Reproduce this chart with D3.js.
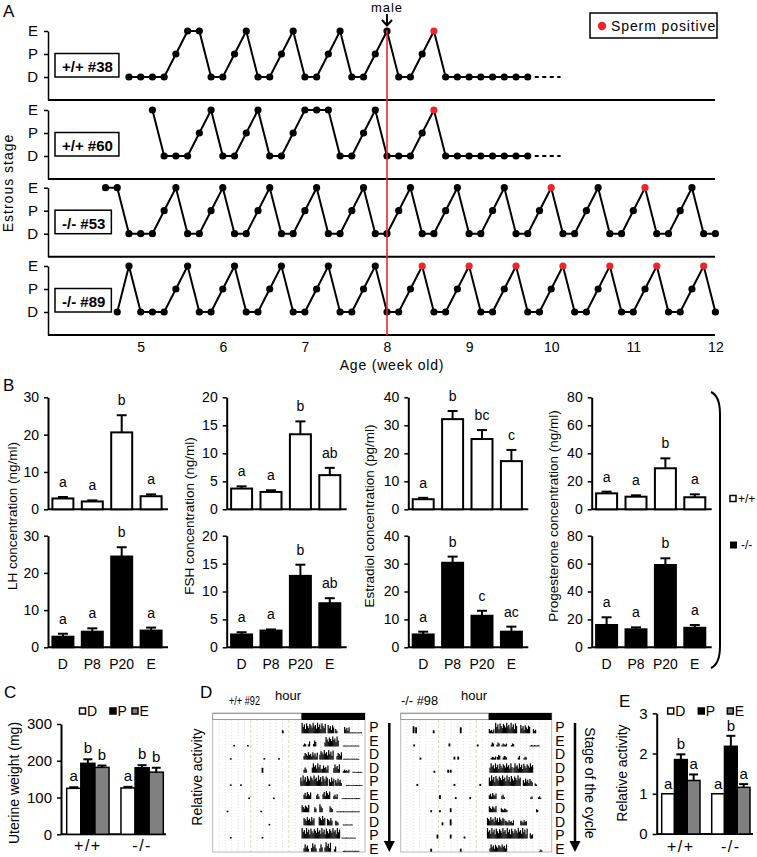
<!DOCTYPE html>
<html><head><meta charset="utf-8">
<script src="https://cdn.jsdelivr.net/npm/d3@7"></script>
<style>body{margin:0;background:#fff}svg{display:block}</style>
</head><body>
<svg id="c" width="757" height="857"></svg>
<script>
// ---------------- DATA ----------------
// Panel A
const stageNames = ["D","P","E"];
const mouseLabels = ["+/+ #38","+/+ #60","-/- #53","-/- #89"];
const startDays = [34,36,32,33];
const stageSeqs = [
  "DDDDPEEDDPEDDPEDDPEDDPEDDPEDDDDDDDD",
  "EDDDPEDDPEDDPEEEDDPEDDDPEDDDDDDDD",
  "EEDDDPEDDPEDDPEDDPEDDPEDDPEDDPEDDPEDDPEDDPEDDPEDDPEDD",
  "DEDDDPEDDPEDDPEDDPEDDPEDDPEDDPEDDPEDDPEDDPEDDPEDDPED"
];
const spermDays = [[60],[60],[70,78],[59,63,67,71,75,79,83]];
const trailingDash = [true,true,false,false];
const weekTicks = [5,6,7,8,9,10,11,12];
const maleWeek = 8;

// Panel B
const cats = ["D","P8","P20","E"];
const hormoneTitles = ["LH concentration (ng/ml)","FSH concentration (ng/ml)","Estradiol concentration (pg/ml)","Progesterone concentration (ng/ml)"];
const hormoneMax = [30,20,40,80];
const hormoneStep = [10,5,10,20];
const wtMean = [[2.9,2.1,20.6,3.5],[3.7,3.1,13.4,6.1],[3.6,32.2,25.1,17.2],[11.4,9.0,29.3,8.6]];
const wtErr  = [[0.4,0.3,4.6,0.5],[0.4,0.3,2.3,1.3],[0.5,2.9,3.2,4.0],[1.2,1.0,7.1,2.1]];
const wtLetters = [["a","a","b","a"],["a","a","b","ab"],["a","b","bc","c"],["a","a","b","a"]];
const koMean = [[2.85,4.2,24.4,4.5],[2.3,3.0,12.8,7.9],[4.6,30.3,11.3,5.6],[16,12.9,59,14]];
const koErr  = [[0.8,0.9,2.5,0.8],[0.4,0.2,2.0,0.9],[1.0,2.2,1.8,1.8],[5.5,1.4,4.8,2.0]];
const koLetters = [["a","a","b","a"],["a","a","b","ab"],["a","b","c","ac"],["a","a","b","a"]];

// Panels C and E
const genotypes = ["+/+","-/-"];
const cycleCats = ["D","P","E"];
const uterMean = [[125,193,182],[126,181,169]];
const uterErr  = [[3,11,5],[3,7,12]];
const uterLetters = [["a","b","b"],["a","b","b"]];
const uterTicks = [0,100,200,300];
const actMean = [[1,1.85,1.33],[1,2.18,1.16]];
const actErr  = [[0,0.13,0.15],[0,0.26,0.08]];
const actLetters = [["a","b","a"],["a","b","a"]];
const actTicks = [0,1,2,3];

// Panel D (actograms): [row, startHour, endHour, relative height]
const cycleStages = ["P","E","D","D","P","E","D","D","P","E"];
const wtBouts = [
 [0,14.0,17.7,1.0],[0,18.1,19.0,0.8],[0,19.3,19.6,0.4],[0,20.7,21.5,0.6],[0,21.6,23.5,0.1],
 [1,14.2,14.6,0.3],[1,15.0,15.3,0.5],[1,15.8,16.2,0.6],[1,17.6,19.8,0.95],[1,20.5,23.0,0.1],
 [2,14.3,16.4,0.7],[2,16.8,18.9,0.9],[2,19.5,20.2,0.7],[2,20.5,23.0,0.1],
 [3,14.3,14.8,0.5],[3,15.6,17.0,0.9],[3,17.2,18.2,0.7],[3,19.0,20.0,0.8],[3,20.5,21.5,0.3],[3,22.0,23.5,0.1],
 [4,13.8,18.0,1.0],[4,18.3,19.0,0.8],[4,19.3,20.3,0.7],[4,21.0,23.5,0.1],
 [5,14.3,15.4,0.7],[5,16.3,16.8,0.6],[5,17.3,18.4,0.8],[5,19.0,19.6,0.5],[5,20.3,23.2,0.1],
 [6,14.0,15.1,0.7],[6,16.0,16.3,0.5],[6,16.8,17.2,0.8],[6,18.4,18.9,0.6],[6,19.5,23.0,0.1],
 [7,14.3,15.9,0.8],[7,16.7,17.7,0.9],[7,18.0,18.8,0.7],[7,19.3,19.8,0.5],[7,20.5,22.0,0.1],
 [8,14.0,20.0,1.0],[8,20.3,22.5,0.1],
 [9,14.3,15.0,0.7],[9,15.5,16.3,0.8],[9,16.8,17.3,0.7],[9,17.6,18.6,0.9],[9,19.1,19.4,0.5],[9,20.5,23.0,0.1]
];
const wtSpots = [[0,10.9,0.3],[1,3.25,0.15],[1,5.4,0.15],[2,2.7,0.15],[2,8.0,0.15],[2,10.3,0.15],[3,7.7,0.5],
 [4,2.7,0.15],[4,4.3,0.15],[4,8.8,0.15],[5,5.6,0.15],[5,9.5,0.15],[6,2.2,0.15],[6,7.5,0.15],[7,8.8,0.15],[8,2.7,0.15],[8,7.7,0.15]];
const koBouts = [
 [0,14.0,14.7,0.4],[0,15.0,18.4,1.0],[0,19.0,20.5,0.8],[0,21.0,21.4,0.4],
 [1,14.3,14.8,0.4],[1,15.2,15.6,0.4],[1,16.0,16.8,0.3],[1,17.5,18.0,0.3],[1,20.5,22.0,0.15],
 [2,14.3,15.0,0.3],[2,15.3,15.8,0.5],[2,16.2,16.8,0.4],[2,18.6,18.9,0.4],[2,19.5,20.0,0.3],
 [3,14.1,17.6,0.9],[3,17.9,21.0,0.9],
 [4,14.0,18.9,1.0],[4,19.4,20.8,0.7],[4,21.3,21.6,0.3],
 [5,14.0,15.2,0.6],[5,16.0,16.5,0.5],[5,20.6,20.9,0.3],[5,21.8,22.3,0.3],
 [6,14.0,15.2,0.6],[6,15.9,16.9,0.4],[6,21.5,21.8,0.3],
 [7,13.7,16.4,0.8],[7,16.6,17.9,0.5],[7,19.0,20.0,0.5],
 [8,13.7,20.1,1.0],[8,20.5,21.0,0.5],
 [9,14.1,16.8,0.7],[9,22.0,22.5,0.2]
];
const koSpots = [[0,1.9,0.7],[0,2.3,0.6],[0,5.1,0.3],[0,9.4,0.6],[1,2.0,0.2],[1,7.6,0.3],[1,12.1,0.2],
 [2,3.0,0.2],[2,8.4,0.3],[2,9.0,0.3],[3,5.2,0.2],[3,7.4,0.3],[3,7.8,0.3],[4,2.5,0.2],[4,8.4,0.2],[4,12.5,0.2],
 [5,6.1,0.4],[5,8.6,0.2],[5,10.9,0.2],[6,4.7,0.2],[6,6.1,0.2],[6,7.8,0.4],[7,6.5,0.3],[7,7.8,0.6],
 [8,5.7,0.4],[8,7.8,0.4],[8,10.0,0.2],[9,4.7,0.3],[9,9.4,0.3]];
const combPattern = [1,0.6,0.85,0.4,0.95,0.7,0.5,0.9,0.75,0.55,1,0.65,0.8,0.45];
const lightHours = 14;

// ---------------- DRAWING ----------------
const svg = d3.select("#c");
const FONT = "'Liberation Sans', Arial, sans-serif";
function T(x,y,s,o={}){
  const t = svg.append("text").attr("x",x).attr("y",y).text(s)
    .attr("font-size",o.size||14).attr("font-family",o.family||FONT)
    .attr("text-anchor",o.anchor||"start").attr("fill",o.fill||"#000");
  if(o.weight) t.attr("font-weight",o.weight);
  if(o.ls) t.attr("letter-spacing",o.ls);
  if(o.len) t.attr("textLength",o.len).attr("lengthAdjust","spacingAndGlyphs");
  if(o.rotate!=null) t.attr("transform",`rotate(${o.rotate},${x},${y})`);
  if(o.db) t.attr("dominant-baseline",o.db);
  return t;
}
function styleAxis(ax, size){
  ax.select(".domain").attr("stroke-width",2);
  ax.selectAll(".tick line").attr("stroke-width",1.5);
  ax.selectAll("text").attr("font-size",size||14).attr("font-family",FONT).attr("fill","#000");
}

// ---------- Panel A ----------
T(3,17,"A",{size:17});
const dayX = d3.scaleLinear().domain([56,84]).range([387,715.4]);
const aLeft = 48, aRight = 715;
const rowBase = [100,179,256.7,335];
rowBase.forEach((b,i)=>{
  const y = d3.scaleLinear().domain([-1,2]).range([b,b-69]);
  svg.append("g").attr("transform",`translate(${aLeft},0)`)
    .call(d3.axisLeft(y).tickValues([0,1,2]).tickFormat(k=>stageNames[k]).tickSize(4).tickSizeOuter(0).tickPadding(6))
    .call(ax=>{styleAxis(ax,15); ax.select(".domain").attr("stroke-width",1.5);});
  svg.append("line").attr("x1",aLeft).attr("x2",aRight).attr("y1",b).attr("y2",b)
    .attr("stroke","#000").attr("stroke-width",2);
  const pts = stageSeqs[i].split("").map((s,k)=>({day:startDays[i]+k, lvl:stageNames.indexOf(s)}));
  pts.forEach(p=>p.red = spermDays[i].includes(p.day));
  svg.append("path").datum(pts).attr("fill","none").attr("stroke","#000").attr("stroke-width",2)
    .attr("d",d3.line().x(d=>dayX(d.day)).y(d=>y(d.lvl)));
  if(trailingDash[i]){
    const last = pts[pts.length-1];
    svg.append("line").attr("x1",dayX(last.day)+7).attr("x2",dayX(last.day+2.8)).attr("y1",y(0)).attr("y2",y(0))
      .attr("stroke","#000").attr("stroke-width",2).attr("stroke-dasharray","4,3.5");
  }
  svg.append("g").selectAll("circle").data(pts).join("circle")
    .attr("cx",d=>dayX(d.day)).attr("cy",d=>y(d.lvl)).attr("r",3.6)
    .attr("fill",d=>d.red?"#e8262b":"#000");
  const lt = T(62,y(0)-5,mouseLabels[i],{size:15,weight:"bold"});
  const w = lt.node().getComputedTextLength();
  svg.insert("rect","text").attr("x",55).attr("y",y(1)-0.5).attr("width",w+13).attr("height",23.5)
    .attr("fill","#fff").attr("stroke","#000").attr("stroke-width",1.5);
  lt.raise();
});
svg.append("line").attr("x1",dayX(maleWeek*7)).attr("x2",dayX(maleWeek*7)).attr("y1",30).attr("y2",335)
  .attr("stroke","#e8262b").attr("stroke-width",1.6);
const mx = dayX(maleWeek*7);
T(mx,12,"male",{size:13,anchor:"middle",ls:1});
svg.append("line").attr("x1",mx).attr("x2",mx).attr("y1",14).attr("y2",25).attr("stroke","#000").attr("stroke-width",2);
svg.append("path").attr("d",`M${mx-5},20 L${mx},25.5 L${mx+5},20`).attr("fill","none").attr("stroke","#000").attr("stroke-width",2);
svg.append("g").attr("transform","translate(0,335)")
  .call(d3.axisBottom(dayX).tickValues(weekTicks.map(w=>w*7)).tickFormat(d=>d/7).tickSize(0).tickPadding(7))
  .call(ax=>{styleAxis(ax,14); ax.select(".domain").remove();});
T(392,370,"Age (week old)",{size:14,anchor:"middle",ls:0.8});
T(13,183,"Estrous stage",{size:14,anchor:"middle",rotate:-90,ls:1});
svg.append("rect").attr("x",590).attr("y",13).attr("width",127).attr("height",25).attr("fill","#fff").attr("stroke","#000").attr("stroke-width",1.5);
svg.append("circle").attr("cx",602).attr("cy",26).attr("r",4.2).attr("fill","#e8262b");
T(611,31,"Sperm positive",{size:14,ls:0.9});

// ---------- Panel B ----------
T(3,391,"B",{size:17});
const bColX = [48,226.7,408.3,591.7];
const bTitleX = [12,189,369,553];
function hormoneChart(col, ko){
  const ax = bColX[col];
  const yb = ko?647.3:509.3, yt = ko?535.7:397.3;
  const y = d3.scaleLinear().domain([0,hormoneMax[col]]).range([yb,yt]);
  const x = d3.scaleBand().domain(cats).range([ax,ax+118]).paddingInner(0.286).paddingOuter(0.15);
  const means = ko?koMean[col]:wtMean[col], errs = ko?koErr[col]:wtErr[col], lets = ko?koLetters[col]:wtLetters[col];
  svg.append("g").attr("transform",`translate(${ax},0)`)
    .call(d3.axisLeft(y).tickValues(d3.range(0,hormoneMax[col]+1,hormoneStep[col])).tickFormat(d3.format("d")).tickSize(4).tickSizeOuter(0).tickPadding(5))
    .call(a=>styleAxis(a,14));
  svg.append("line").attr("x1",ax).attr("x2",ax+120).attr("y1",yb).attr("y2",yb).attr("stroke","#000").attr("stroke-width",2);
  const g = svg.append("g");
  cats.forEach((c,k)=>{
    const cx = x(c)+x.bandwidth()/2;
    g.append("line").attr("x1",cx).attr("x2",cx).attr("y1",y(means[k])).attr("y2",y(means[k]+errs[k])).attr("stroke","#000").attr("stroke-width",2);
    g.append("line").attr("x1",cx-5).attr("x2",cx+5).attr("y1",y(means[k]+errs[k])).attr("y2",y(means[k]+errs[k])).attr("stroke","#000").attr("stroke-width",2);
    g.append("rect").attr("x",x(c)).attr("y",y(means[k])).attr("width",x.bandwidth()).attr("height",yb-y(means[k]))
      .attr("fill",ko?"#000":"#fff").attr("stroke","#000").attr("stroke-width",2);
    T(cx,y(means[k]+errs[k])-10,lets[k],{size:14,anchor:"middle"});
    if(ko) T(cx,669,c,{size:14,anchor:"middle"});
  });
}
for(let c=0;c<4;c++){ hormoneChart(c,false); hormoneChart(c,true);
  T(bTitleX[c],516,hormoneTitles[c],{size:13.5,anchor:"middle",rotate:-90,db:"central"}); }
svg.append("path").attr("d","M711,392 Q720,396 720,414 L720,646 Q720,664 711,668").attr("fill","none").attr("stroke","#000").attr("stroke-width",2);
svg.append("rect").attr("x",730).attr("y",495.5).attr("width",6).attr("height",6).attr("fill","#fff").attr("stroke","#000").attr("stroke-width",1.5);
T(738,503,"+/+",{size:12});
svg.append("rect").attr("x",730).attr("y",541.5).attr("width",7).attr("height",7).attr("fill","#000");
T(741,549,"-/-",{size:12});

// ---------- Panels C & E ----------
function groupChart(o){
  const y = d3.scaleLinear().domain([0,o.ticks[o.ticks.length-1]]).range([o.yb,o.yt]);
  const gx = d3.scaleBand().domain(genotypes).range(o.range).paddingInner(o.pi).paddingOuter(o.po);
  const sx = d3.scaleBand().domain(cycleCats).range([0,gx.bandwidth()]);
  svg.append("g").attr("transform",`translate(${o.ax},0)`)
    .call(d3.axisLeft(y).tickValues(o.ticks).tickFormat(d3.format("d")).tickSize(4).tickSizeOuter(0).tickPadding(5))
    .call(a=>styleAxis(a,15));
  svg.append("line").attr("x1",o.ax).attr("x2",o.axEnd).attr("y1",o.yb).attr("y2",o.yb).attr("stroke","#000").attr("stroke-width",2);
  const fills = ["#fff","#000","#808080"];
  genotypes.forEach((gt,gi)=>{
    cycleCats.forEach((c,k)=>{
      const m = o.means[gi][k], e = o.errs[gi][k];
      const bx = gx(gt)+sx(c), cx = bx+sx.bandwidth()/2;
      if(e>0){
        svg.append("line").attr("x1",cx).attr("x2",cx).attr("y1",y(m)).attr("y2",y(m+e)).attr("stroke","#000").attr("stroke-width",2);
        svg.append("line").attr("x1",cx-4.5).attr("x2",cx+4.5).attr("y1",y(m+e)).attr("y2",y(m+e)).attr("stroke","#000").attr("stroke-width",2);
      }
      svg.append("rect").attr("x",bx).attr("y",y(m)).attr("width",sx.bandwidth()).attr("height",o.yb-y(m))
        .attr("fill",fills[k]).attr("stroke","#000").attr("stroke-width",1.5);
      T(cx,y(m+e)-o.letOff,o.letters[gi][k],{size:15,anchor:"middle"});
    });
    T(gx(gt)+gx.bandwidth()/2,o.labY,gt,{size:16,anchor:"middle",ls:1.5});
  });
  o.legX.forEach((lx,k)=>{
    svg.append("rect").attr("x",lx).attr("y",o.legY-6).attr("width",6).attr("height",6)
      .attr("fill",fills[k]).attr("stroke","#000").attr("stroke-width",1.5);
    T(lx+7.5,o.legY+2,cycleCats[k],{size:14});
  });
}
T(4,698,"C",{size:17});
groupChart({ax:61,axEnd:166,yb:834.3,yt:724,ticks:uterTicks,range:[61,169],pi:0.22,po:0.105,
  means:uterMean,errs:uterErr,letters:uterLetters,letOff:6,labY:851,legX:[79.5,110,132],legY:714});
T(14,783,"Uterine weight (mg)",{size:14,anchor:"middle",rotate:-90,db:"central"});
T(619,707,"E",{size:17});
groupChart({ax:656.7,axEnd:753,yb:834,yt:713.3,ticks:actTicks,range:[656.7,755],pi:0.234,po:0.1,
  means:actMean,errs:actErr,letters:actLetters,letOff:5,labY:852,legX:[667.7,698.3,727.3],legY:714});
T(622,773,"Relative activity",{size:14,anchor:"middle",rotate:-90,db:"central"});

// ---------- Panel D ----------
T(200,698,"D",{size:17});
T(197,777,"Relative activity",{size:14,anchor:"middle",rotate:-90,db:"central"});
function actogram(x0,w,title,titleX,titleLen,hourX,bouts,spots,stageX,arrowX){
  const hx = d3.scaleLinear().domain([0,24]).range([x0,x0+w]);
  const ry = d3.scaleLinear().domain([0,9]).range([733.3,851.7]);
  T(titleX,705,title,{size:13,len:titleLen});
  T(hourX,700,"hour",{size:13,anchor:"middle"});
  svg.append("rect").attr("x",x0).attr("y",713).attr("width",w).attr("height",139).attr("fill","#fff").attr("stroke","#b8b8b8").attr("stroke-width",1);
  const g = svg.append("g");
  d3.range(1,24).forEach(h=>{
    g.append("line").attr("x1",hx(h)).attr("x2",hx(h)).attr("y1",720).attr("y2",852)
      .attr("stroke",(h===6||h===12)?"#d8d09c":"#d6d6d6").attr("stroke-width",0.8)
      .attr("stroke-dasharray",(h===6||h===12)?"3,2":"1,2");
  });
  svg.append("rect").attr("x",x0).attr("y",713.5).attr("width",hx(lightHours)-x0).attr("height",6).attr("fill","#fff").attr("stroke","#999");
  svg.append("rect").attr("x",hx(lightHours)).attr("y",713).attr("width",x0+w-hx(lightHours)).attr("height",7).attr("fill","#000");
  const bars = [];
  bouts.forEach(([r,s,e,a])=>{
    let k=0;
    for(let px=hx(s); px<=hx(e); px+=1.1, k++){
      const hh = Math.max(0.8, a*10.5*combPattern[(k+r*3)%combPattern.length]);
      bars.push({x:px,y:ry(r)-hh,h:hh});
    }
  });
  spots.forEach(([r,hr,a])=>{ const hh=Math.max(1,a*10); bars.push({x:hx(hr),y:ry(r)-hh,h:hh,w:1.8}); });
  g.selectAll("rect.act").data(bars).join("rect").attr("class","act")
    .attr("x",d=>d.x).attr("y",d=>d.y).attr("width",d=>d.w||1.2).attr("height",d=>d.h).attr("fill","#000");
  // stage letters: one vertical text
  const step = ry(1)-ry(0);
  svg.append("text").attr("x",stageX).attr("y",ry(0)-8-step/2+0.5)
    .attr("font-size",14).attr("font-family",FONT)
    .style("writing-mode","vertical-rl").style("text-orientation","upright")
    .attr("letter-spacing",(step-14*1.117).toFixed(2))
    .text(cycleStages.join(""));
  svg.append("line").attr("x1",arrowX).attr("x2",arrowX).attr("y1",723).attr("y2",843).attr("stroke","#000").attr("stroke-width",2.5);
  svg.append("path").attr("d",`M${arrowX-5.5},841 L${arrowX+5.5},841 L${arrowX},852 Z`).attr("fill","#000");
}
actogram(212.7,152.3,"+/+ #92",229,31,288,wtBouts,wtSpots,374,389.3);
actogram(400.7,151,"-/- #98",401,37,474,koBouts,koSpots,560,575);
T(590,783,"Stage of the cycle",{size:14,anchor:"middle",rotate:90,db:"central"});
</script>
</body></html>
